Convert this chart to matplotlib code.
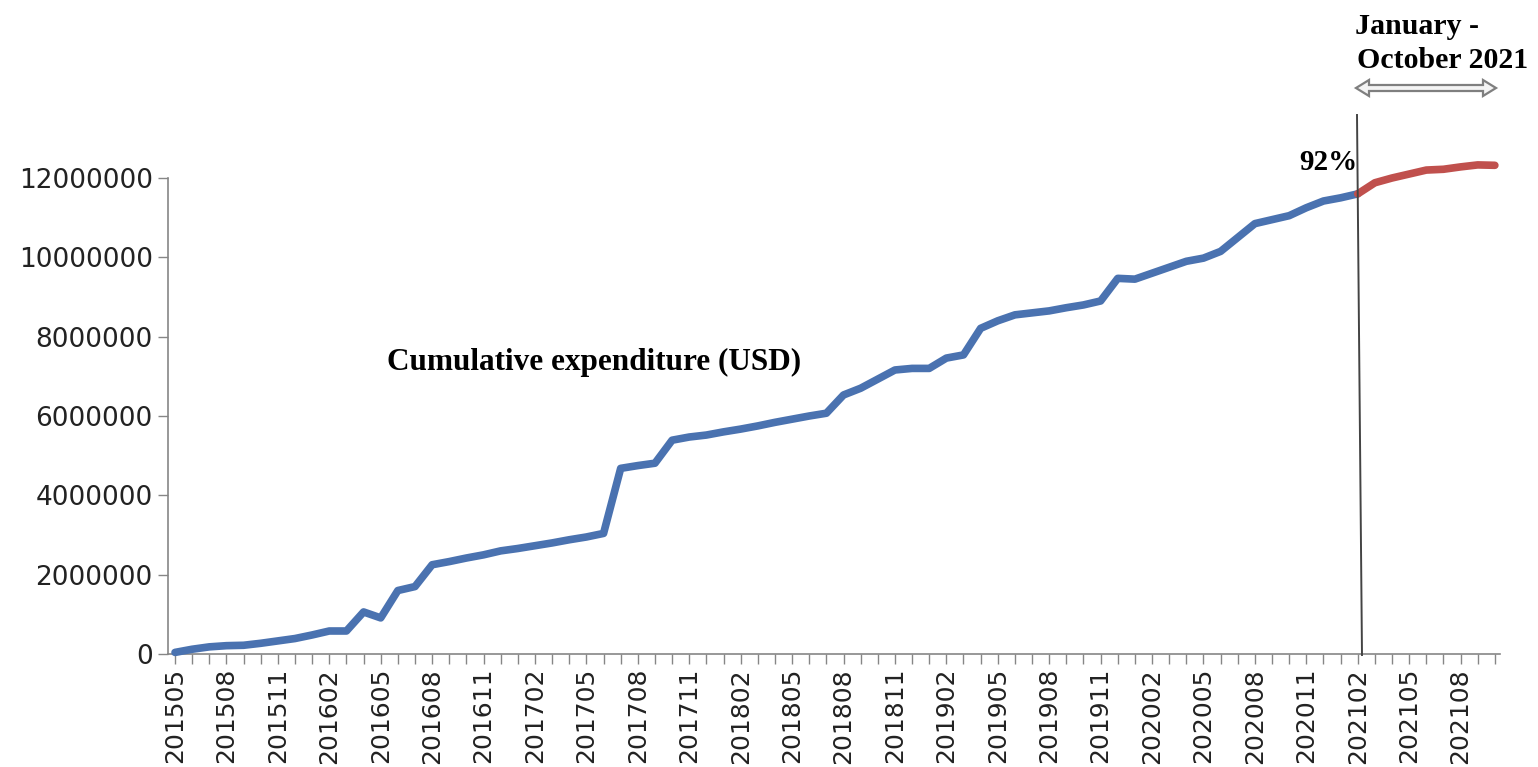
import matplotlib
matplotlib.use('Agg')
import matplotlib.pyplot as plt
from matplotlib.lines import Line2D
from matplotlib.patches import Polygon
import numpy as np

# months 201505 .. 202110
meses = []
ano, mes = 2015, 5
for _ in range(78):
    meses.append(f'{ano}{mes:02d}')
    mes += 1
    if mes > 12:
        mes = 1
        ano += 1

# cumulative expenditure (millions USD)
gasto_mi = [
    0.04, 0.12, 0.18, 0.21, 0.22, 0.27, 0.33, 0.39, 0.48, 0.58,
    0.58, 1.06, 0.91, 1.60, 1.70, 2.25, 2.33, 2.42, 2.50, 2.60,
    2.66, 2.73, 2.80, 2.88, 2.95, 3.04, 4.68, 4.75, 4.81, 5.39,
    5.47, 5.52, 5.60, 5.67, 5.75, 5.84, 5.92, 6.00, 6.07, 6.53,
    6.70, 6.93, 7.16, 7.20, 7.20, 7.46, 7.54, 8.21, 8.40, 8.55,
    8.60, 8.65, 8.73, 8.80, 8.90, 9.47, 9.45, 9.60, 9.75, 9.90,
    9.98, 10.15, 10.50, 10.85, 10.95, 11.05, 11.25, 11.42, 11.50, 11.60,
    11.88, 12.00, 12.10, 12.20, 12.22, 12.28, 12.33, 12.32,
]
gasto = np.array(gasto_mi) * 1e6
corte = 69  # 202102, where the red part starts

yticks = [0, 2000000, 4000000, 6000000, 8000000, 10000000, 12000000]

W, H = 1538, 767
fig = plt.figure(figsize=(W / 100, H / 100), dpi=100)

def fx(px):
    return px / W

def fy(py):
    return 1 - py / H

ax = fig.add_axes([fx(168), fy(654), (1500 - 168) / W, (654 - 178) / H])

x = np.arange(len(gasto))
ax.plot(x[:corte + 1], gasto[:corte + 1], color='#4a72b0', lw=5.5,
        solid_capstyle='round', solid_joinstyle='round', clip_on=False, zorder=3)
ax.plot(x[corte:], gasto[corte:], color='#c0504d', lw=5.5,
        solid_capstyle='round', solid_joinstyle='round', clip_on=False, zorder=3)

ax.set_xlim(-0.41, 77.3)
ax.set_ylim(0, 12000000)

ax.set_yticks(yticks)
ax.set_yticklabels([str(v) for v in yticks], fontsize=19, color='#222222')
ax.set_xticks(x, minor=True)
ax.set_xticks(x[::3])
ax.set_xticklabels(meses[::3], rotation=90, fontsize=18, color='#222222')
ax.tick_params(axis='both', which='both', direction='out', length=7,
               width=1, color='#868686')
ax.tick_params(axis='x', which='major', pad=3)
ax.tick_params(axis='y', which='major', pad=4)

for lado in ['top', 'right']:
    ax.spines[lado].set_visible(False)
for lado in ['left', 'bottom']:
    ax.spines[lado].set_color('#868686')
    ax.spines[lado].set_linewidth(1.2)

# vertical separator line (figure coordinates)
fig.add_artist(Line2D([fx(1357), fx(1362)], [fy(115), fy(655)],
                      color='#444444', lw=1.4))

fonte = ['Liberation Serif', 'DejaVu Serif']
fig.text(fx(387), fy(362), 'Cumulative expenditure (USD)', fontsize=22.5,
         fontweight='bold', family=fonte, ha='left', va='center')
fig.text(fx(1357), fy(162), '92%', fontsize=21, fontweight='bold',
         family=fonte, ha='right', va='center')
fig.text(fx(1355), fy(26), 'January -', fontsize=21.5, fontweight='bold',
         family=fonte, ha='left', va='center')
fig.text(fx(1357), fy(60), 'October 2021', fontsize=21.5, fontweight='bold',
         family=fonte, ha='left', va='center')

# hollow double arrow
x0, x1, yc = 1356, 1496, 88
cab, meia, haste = 13, 8, 3
pts = [
    (x0, yc), (x0 + cab, yc - meia), (x0 + cab, yc - haste),
    (x1 - cab, yc - haste), (x1 - cab, yc - meia), (x1, yc),
    (x1 - cab, yc + meia), (x1 - cab, yc + haste), (x0 + cab, yc + haste),
    (x0 + cab, yc + meia),
]
fig.add_artist(Polygon([(fx(a), fy(b)) for a, b in pts], closed=True,
                       facecolor='#f4f4f4', edgecolor='#7f7f7f', lw=1.6))

fig.savefig('out.png', dpi=100)
